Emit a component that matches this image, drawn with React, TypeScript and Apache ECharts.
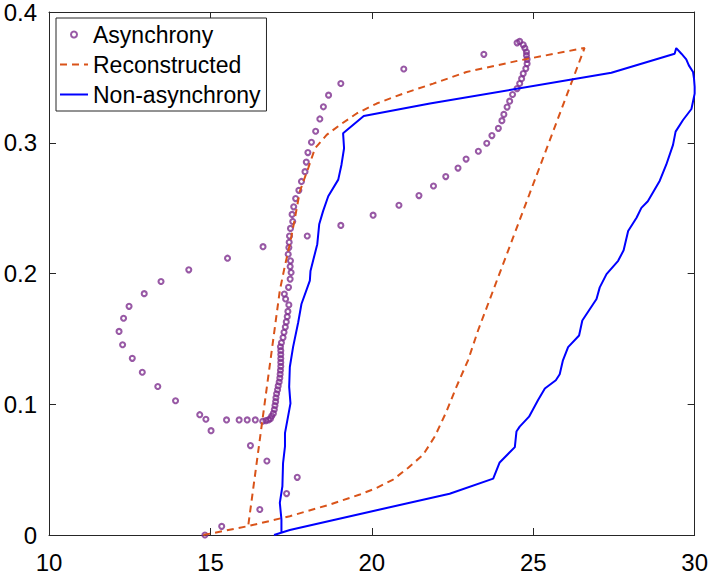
import React, { useEffect, useRef } from "react";
import * as echarts from "echarts";

// Asynchrony (hollow purple circles)
const asynchrony: [number, number][] = [
  [14.83, 0.0], [15.35, 0.0066], [16.53, 0.0195], [17.36, 0.0317], [17.69, 0.0441],
  [16.75, 0.0566], [16.24, 0.0684], [15.02, 0.0798], [14.67, 0.092], [14.86, 0.0885],
  [15.5, 0.088], [15.89, 0.088], [16.14, 0.088], [16.39, 0.088],
  [16.62, 0.087], [16.72, 0.0875], [16.8, 0.088], [16.86, 0.089], [16.9, 0.091],
  [16.95, 0.093], [16.98, 0.096], [17.0, 0.099], [17.02, 0.102], [17.03, 0.105],
  [17.05, 0.108], [17.08, 0.111], [17.1, 0.114], [17.13, 0.117], [17.15, 0.12],
  [17.16, 0.123], [17.17, 0.126], [17.18, 0.129], [17.18, 0.132], [17.18, 0.135],
  [17.18, 0.138], [17.18, 0.141], [17.17, 0.144], [17.2, 0.147], [17.25, 0.151],
  [17.28, 0.155], [17.32, 0.159], [17.35, 0.163], [17.38, 0.167], [17.4, 0.171],
  [17.43, 0.176], [17.33, 0.1805], [17.29, 0.1843], [17.42, 0.1894], [17.47, 0.1957],
  [17.5, 0.2008], [17.47, 0.2053], [17.48, 0.2097], [17.41, 0.2147], [17.43, 0.2198],
  [17.44, 0.2239], [17.45, 0.2287], [17.48, 0.2345], [17.55, 0.2398], [17.53, 0.2452],
  [17.58, 0.251], [17.64, 0.2573], [17.74, 0.2636], [17.82, 0.2704], [17.93, 0.2779],
  [17.97, 0.2852], [18.02, 0.2925], [18.13, 0.3004], [18.26, 0.3088], [18.39, 0.3182],
  [18.5, 0.3275], [18.66, 0.3364], [19.04, 0.3453], [20.99, 0.3564], [23.47, 0.3676],
  [24.5, 0.3764], [24.58, 0.3775], [24.69, 0.3749], [24.74, 0.3724], [24.79, 0.3694],
  [24.79, 0.3668], [24.81, 0.3638], [24.81, 0.3605], [24.77, 0.3567], [24.69, 0.3529],
  [24.64, 0.349], [24.58, 0.3453], [24.5, 0.3414], [24.36, 0.3369], [24.27, 0.3318],
  [24.19, 0.3273], [24.09, 0.3217], [24.03, 0.3169], [23.92, 0.311], [23.72, 0.3055],
  [23.56, 0.2996], [23.3, 0.2935], [22.92, 0.2875], [22.67, 0.2806], [22.29, 0.2741],
  [21.91, 0.2669], [21.46, 0.2596], [20.84, 0.2522], [20.04, 0.2446], [19.04, 0.2368],
  [18.0, 0.2287], [16.63, 0.2205], [15.53, 0.2117], [14.33, 0.2028], [13.47, 0.1939],
  [12.95, 0.1846], [12.48, 0.1749], [12.31, 0.1658], [12.17, 0.1557], [12.28, 0.1455],
  [12.58, 0.1351], [12.89, 0.1245], [13.37, 0.1136], [13.92, 0.1027]
];

// Reconstructed (orange dashed)
const reconstructed: [number, number][] = [
  [14.78, 0.0], [16.17, 0.0068], [17.46, 0.0144], [18.7, 0.0233], [19.63, 0.031],
  [20.15, 0.036], [20.66, 0.0424], [21.12, 0.0513], [21.59, 0.0614], [21.95, 0.0753],
  [22.31, 0.0943], [22.62, 0.1133], [22.98, 0.1336], [23.29, 0.1564], [26.59, 0.3725],
  [24.58, 0.363], [22.93, 0.3541], [21.9, 0.3452], [20.97, 0.3376], [20.15, 0.33],
  [19.53, 0.3224], [19.01, 0.3136], [18.6, 0.306], [18.24, 0.2958], [18.03, 0.2806],
  [17.77, 0.2629], [17.62, 0.2426], [17.46, 0.2224], [17.3, 0.205], [17.15, 0.187],
  [16.17, 0.0068]
];

// Non-asynchrony (blue solid)
const nonAsynchrony: [number, number][] = [
  [16.97, 0.0], [17.46, 0.0038], [20.25, 0.0195], [22.41, 0.0315], [23.76, 0.0431],
  [23.96, 0.0555], [24.43, 0.0672], [24.48, 0.0791], [24.58, 0.0829], [24.87, 0.0905],
  [25.15, 0.1032], [25.36, 0.1121], [25.7, 0.1184], [25.82, 0.123], [25.92, 0.1336],
  [26.08, 0.1437], [26.42, 0.1526], [26.52, 0.164], [26.96, 0.1805], [27.06, 0.1894],
  [27.27, 0.1995], [27.63, 0.2097], [27.8, 0.2178], [27.94, 0.2325], [28.2, 0.2426],
  [28.35, 0.2502], [28.55, 0.2553], [28.92, 0.271], [29.12, 0.2832], [29.33, 0.2984],
  [29.41, 0.3085], [29.64, 0.3174], [29.9, 0.3258], [30.0, 0.3376], [30.0, 0.3427],
  [29.98, 0.349], [29.95, 0.3541], [29.82, 0.3592], [29.74, 0.3638], [29.59, 0.3681],
  [29.43, 0.3724], [29.38, 0.3681], [27.42, 0.3536], [21.8, 0.33], [19.75, 0.3205],
  [19.11, 0.3072], [19.14, 0.2958], [19.06, 0.2832], [18.96, 0.2718], [18.65, 0.2591],
  [18.49, 0.2477], [18.37, 0.2376], [18.31, 0.2224], [18.18, 0.2097], [18.1, 0.202],
  [18.08, 0.1945], [17.82, 0.1767], [17.72, 0.1627], [17.56, 0.1437], [17.46, 0.1285],
  [17.44, 0.1133], [17.48, 0.1007], [17.31, 0.0779], [17.31, 0.0677], [17.25, 0.055],
  [17.23, 0.0373], [17.15, 0.0246], [17.2, 0.0119], [17.2, 0.0043], [17.2, 0.0025]
];

const seriesNames = ["Asynchrony", "Reconstructed", "Non-asynchrony"];
const xTicks = [10, 15, 20, 25, 30];
const yTicks = [0, 0.1, 0.2, 0.3, 0.4];

const PURPLE = "#7E2F8E";
const ORANGE = "#D95319";
const BLUE = "#0000FF";

export default function App() {
  const ref = useRef<HTMLDivElement>(null);
  useEffect(() => {
    if (!ref.current) return;
    const chart = echarts.init(ref.current, null, { renderer: "svg" });
    const font = "'Liberation Sans', Arial, Helvetica, sans-serif";
    const axisColor = "#262626";
    const xBase: any = {
      type: "value",
      min: xTicks[0],
      max: xTicks[xTicks.length - 1],
      interval: xTicks[1] - xTicks[0],
      splitLine: { show: false },
      axisLine: { show: true, onZero: false, lineStyle: { color: axisColor, width: 1 } },
      axisTick: { show: true, inside: true, length: 7, lineStyle: { color: axisColor, width: 1 } },
    };
    const yBase: any = {
      type: "value",
      min: yTicks[0],
      max: yTicks[yTicks.length - 1],
      interval: 0.1,
      splitLine: { show: false },
      axisLine: { show: true, onZero: false, lineStyle: { color: axisColor, width: 1 } },
      axisTick: { show: true, inside: true, length: 7, lineStyle: { color: axisColor, width: 1 } },
    };
    chart.setOption({
      animation: false,
      backgroundColor: "#ffffff",
      textStyle: { fontFamily: font },
      grid: { left: 49, right: 16, top: 10, bottom: 38, containLabel: false },
      xAxis: [
        {
          ...xBase,
          position: "bottom",
          axisLabel: { show: true, fontSize: 24, color: "#000", margin: 15, fontFamily: font },
        },
        { ...xBase, position: "top", axisLabel: { show: false } },
      ],
      yAxis: [
        {
          ...yBase,
          position: "left",
          axisLabel: {
            show: true, fontSize: 24, color: "#000", margin: 12, fontFamily: font,
            formatter: (v: number) => String(Math.round(v * 10) / 10),
          },
        },
        { ...yBase, position: "right", axisLabel: { show: false } },
      ],
      legend: {
        orient: "vertical",
        left: 56,
        top: 18,
        padding: [5, 6, 5, 3],
        itemGap: 7,
        itemWidth: 28,
        itemHeight: 6,
        backgroundColor: "#ffffff",
        borderColor: axisColor,
        borderWidth: 1,
        borderRadius: 0,
        textStyle: { fontSize: 23, color: "#000", fontFamily: font },
        data: [
          { name: seriesNames[0] },
          { name: seriesNames[1], itemStyle: { opacity: 0 } },
          { name: seriesNames[2], itemStyle: { opacity: 0 } },
        ],
      },
      series: [
        {
          name: seriesNames[0],
          type: "scatter",
          data: asynchrony,
          symbol: "circle",
          symbolSize: 5,
          itemStyle: { color: "rgba(0,0,0,0)", borderColor: PURPLE, borderWidth: 2.1 },
          xAxisIndex: 0,
          yAxisIndex: 0,
        },
        {
          name: seriesNames[1],
          type: "line",
          data: reconstructed,
          symbol: "none",
          showSymbol: false,
          clip: false,
          lineStyle: { color: ORANGE, width: 2, type: [7, 5] },
          itemStyle: { color: ORANGE },
          xAxisIndex: 0,
          yAxisIndex: 0,
        },
        {
          name: seriesNames[2],
          type: "line",
          data: nonAsynchrony,
          symbol: "none",
          showSymbol: false,
          clip: false,
          lineStyle: { color: BLUE, width: 2 },
          itemStyle: { color: BLUE },
          xAxisIndex: 0,
          yAxisIndex: 0,
        },
      ],
    });
    return () => chart.dispose();
  }, []);
  return (
    <div
      ref={ref}
      style={{ position: "absolute", left: 0, top: 0, width: 711, height: 574 }}
    />
  );
}
